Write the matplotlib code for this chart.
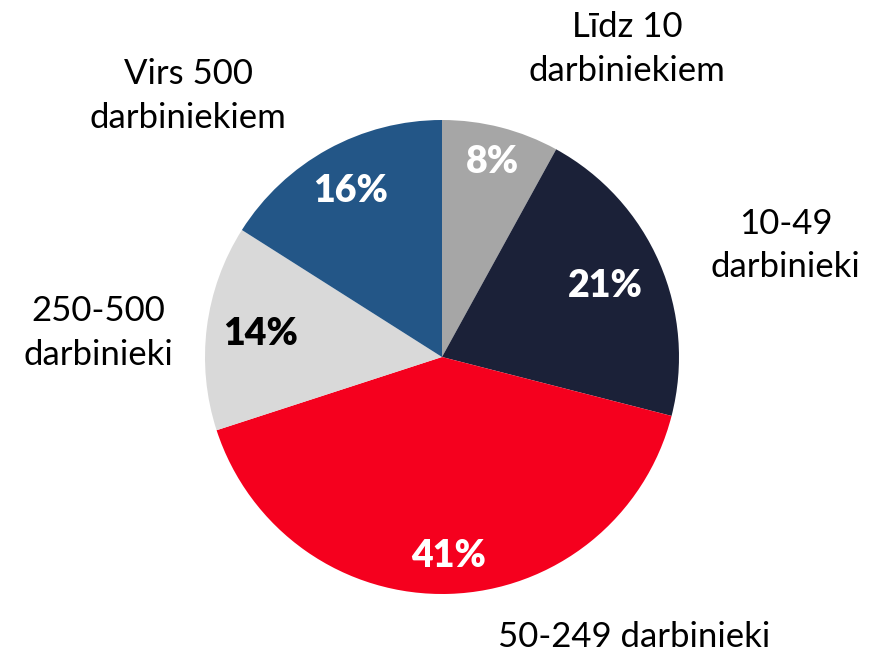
import numpy as np
import matplotlib
matplotlib.use("Agg")
import matplotlib.pyplot as plt

plt.rcParams['font.family'] = ['Lato', 'DejaVu Sans']

# data
categories = ['Līdz 10\ndarbiniekiem', '10-49\ndarbinieki', '50-249 darbinieki',
              '250-500\ndarbinieki', 'Virs 500\ndarbiniekiem']
shares = [8, 21, 41, 14, 16]
pct_labels = ['8%', '21%', '41%', '14%', '16%']

colors = ['#A6A6A6', '#1B2138', '#F5001E', '#D9D9D9', '#235687']
pct_colors = ['white', 'white', 'white', 'black', 'white']
pct_dist = [0.85, 0.75, 0.84, 0.77, 0.80]
# outer label positions (in units of pie radius)
label_pos = [(0.78, 1.30), (1.45, 0.47), (0.81, -1.18), (-1.45, 0.10), (-1.07, 1.10)]

W, H = 874, 656
cx, cy, R = 442, 357, 237
fig = plt.figure(figsize=(W / 100, H / 100), dpi=100)
ax = fig.add_axes([0, 0, 1, 1])

wedges, _ = ax.pie(shares, colors=colors, startangle=90, counterclock=False,
                   radius=1, wedgeprops=dict(linewidth=0))

for w, lab, c, d in zip(wedges, pct_labels, pct_colors, pct_dist):
    ang = np.deg2rad((w.theta1 + w.theta2) / 2)
    ax.text(d * np.cos(ang), d * np.sin(ang), lab, ha='center', va='center',
            fontsize=27, fontweight='heavy', color=c)

for lab, (x, y) in zip(categories, label_pos):
    ax.text(x, y, lab, ha='center', va='center', fontsize=25, color='black',
            linespacing=1.45)

ax.set_xlim(-cx / R, (W - cx) / R)
ax.set_ylim(-(H - cy) / R, cy / R)
ax.set_aspect('auto')
ax.axis('off')

fig.savefig('out.png', dpi=100)
